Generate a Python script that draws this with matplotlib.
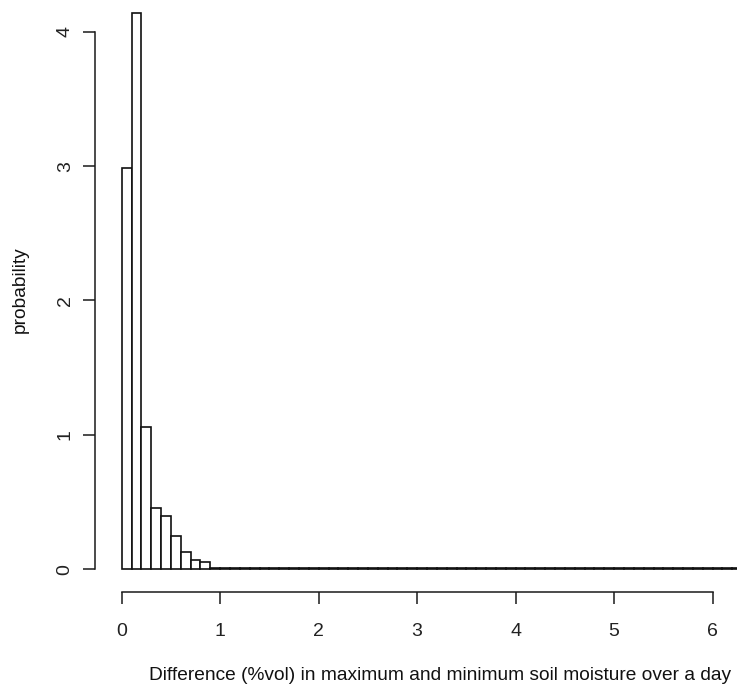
import matplotlib.pyplot as plt
import numpy as np

plt.rcParams['font.family'] = ['Liberation Sans', 'DejaVu Sans']

# bin edges start at 0 with width 0.1; densities
bin_width = 0.1
head_density = [2.985, 4.14, 1.06, 0.457, 0.395, 0.251, 0.125, 0.067, 0.052]
# long tail beyond 0.9 is nearly flat at zero (drawn as a thick line)
tail_density = [0.010, 0.009, 0.008, 0.008, 0.007, 0.007, 0.007, 0.006, 0.006, 0.006,
                0.006, 0.006, 0.006, 0.006, 0.006, 0.006, 0.006, 0.006, 0.006, 0.006,
                0.006, 0.006, 0.006, 0.006, 0.006, 0.006, 0.006, 0.006, 0.006, 0.006,
                0.006, 0.006, 0.006, 0.006, 0.006, 0.006, 0.006, 0.006, 0.006, 0.006,
                0.006, 0.006, 0.006, 0.006, 0.006, 0.006, 0.006, 0.006, 0.006, 0.006,
                0.006, 0.006, 0.006, 0.006, 0.006, 0.006, 0.006, 0.006, 0.006]
x_ticks = [0, 1, 2, 3, 4, 5, 6]
y_ticks = [0, 1, 2, 3, 4]

density = head_density + tail_density
lefts = np.arange(len(density)) * bin_width

W, H = 737, 691
fig = plt.figure(figsize=(W / 100, H / 100), dpi=100)
# plot region runs past the right and top edges, like the cropped original
ax = fig.add_axes([95 / W, (H - 592) / H, (816 - 95) / W, (592 + 10) / H])

ax.bar(lefts, density, width=bin_width, align='edge',
       facecolor='white', edgecolor='#111111', linewidth=1.2)

ax.set_xlim(-0.271, 7.05)
ax.set_ylim(-0.169, 4.31)

for s in ['top', 'right']:
    ax.spines[s].set_visible(False)
ax.spines['left'].set_bounds(0, 4)
ax.spines['bottom'].set_bounds(0, 6)
for s in ['left', 'bottom']:
    ax.spines[s].set_linewidth(1.1)
    ax.spines[s].set_color('#1a1a1a')

ax.set_xticks(x_ticks)
ax.set_yticks(y_ticks)
ax.tick_params(axis='both', direction='out', length=8.3, width=1.1,
               color='#1a1a1a', labelsize=14, labelcolor='#222222')
ax.tick_params(axis='x', pad=14)
ax.tick_params(axis='y', pad=7)
for lab in ax.get_yticklabels():
    lab.set_rotation(90)
    lab.set_va('center')

fig.text(440 / W, 1 - 676 / H, 'Difference (%vol) in maximum and minimum soil moisture over a day',
         ha='center', va='center', fontsize=13.8, color='#111111')
fig.text(20 / W, 1 - 290 / H, 'probability', rotation=90,
         ha='center', va='center', fontsize=13.8, color='#111111')

fig.savefig('out.png', dpi=100)
